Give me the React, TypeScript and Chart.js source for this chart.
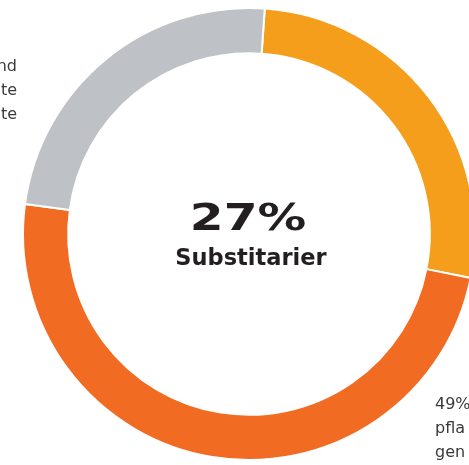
import React, { useEffect, useRef } from "react";
import { Chart, registerables } from "chart.js";

Chart.register(...registerables);

const categories = ["Substitarier", "Pflanzen", "Andere"];
const values = [27, 49, 24];
const colors = ["#F59E1C", "#F26B22", "#BEC1C5"];
const centerValue = "27%";
const centerLabel = "Substitarier";
const leftLines = ["nd", "te", "te"];
const rightLines = ["49%", "pfla", "gen"];

const textPlugin = {
  id: "texts",
  afterDraw(chart: any) {
    const ctx = chart.ctx;
    const area = chart.chartArea;
    const cx = (area.left + area.right) / 2;
    const cy = (area.top + area.bottom) / 2;
    ctx.save();
    ctx.fillStyle = "#231F20";
    ctx.textAlign = "center";
    ctx.textBaseline = "alphabetic";
    ctx.save();
    ctx.translate(cx - 1, cy - 4);
    ctx.scale(1.28, 1);
    ctx.font = "bold 38px 'DejaVu Sans'";
    ctx.fillText(centerValue, 0, 0);
    ctx.restore();
    ctx.font = "bold 22.5px 'DejaVu Sans'";
    ctx.fillText(centerLabel, cx + 2, cy + 31);

    ctx.fillStyle = "#3A3A3A";
    ctx.font = "16px 'DejaVu Sans'";
    ctx.textAlign = "right";
    leftLines.forEach((t, i) => ctx.fillText(t, 17, 71 + i * 24));
    ctx.textAlign = "left";
    rightLines.forEach((t, i) => ctx.fillText(t, 435, 409 + i * 24));
    ctx.restore();
  },
};

export default function App() {
  const ref = useRef<HTMLCanvasElement>(null);
  useEffect(() => {
    if (!ref.current) return;
    const chart = new Chart(ref.current, {
      type: "doughnut",
      data: {
        labels: categories,
        datasets: [
          {
            data: values,
            backgroundColor: colors,
            borderColor: "#FFFFFF",
            borderWidth: 2,
          },
        ],
      },
      options: {
        responsive: false,
        animation: false,
        devicePixelRatio: 1,
        rotation: 4,
        cutout: "80%",
        layout: { padding: { left: 22, top: 7, right: 24, bottom: 9 } },
        plugins: {
          legend: { display: false },
          tooltip: { enabled: false },
        },
      },
      plugins: [textPlugin],
    });
    return () => chart.destroy();
  }, []);
  return (
    <div
      style={{
        position: "fixed",
        left: 0,
        top: 0,
        width: 469,
        height: 465,
        overflow: "hidden",
        background: "#FFFFFF",
      }}
    >
      <canvas ref={ref} width={500} height={470} style={{ width: 500, height: 470, display: "block" }} />
    </div>
  );
}
